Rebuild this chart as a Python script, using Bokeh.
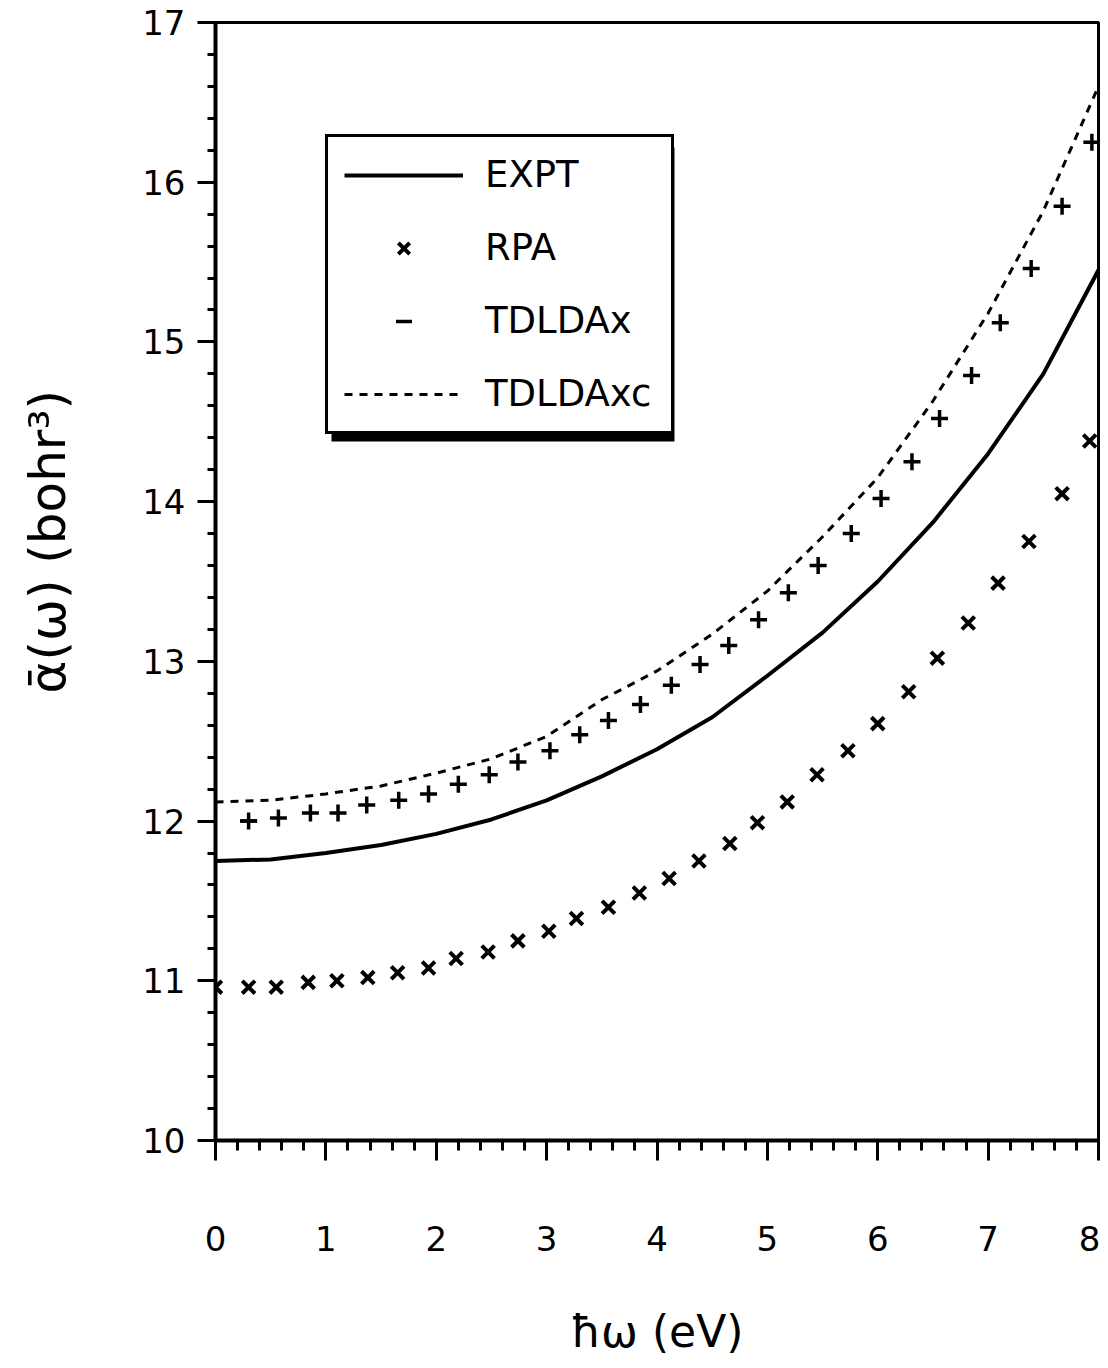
from bokeh.plotting import figure
from bokeh.models import (Range1d, SingleIntervalTicker, Legend, LegendItem,
                          BoxAnnotation)
from bokeh.embed import file_html
from bokeh.resources import INLINE

FONT = "DejaVu Sans"

# ---- data ----
expt_x = [0.0, 0.5, 1.0, 1.5, 2.0, 2.5, 3.0, 3.5, 4.0, 4.5, 5.0, 5.5, 6.0, 6.5, 7.0, 7.5, 8.0]
expt_y = [11.75, 11.76, 11.80, 11.85, 11.92, 12.01, 12.13, 12.28, 12.45, 12.65,
          12.91, 13.18, 13.50, 13.87, 14.30, 14.80, 15.45]

tdxc_x = [0.0, 0.5, 1.0, 1.5, 2.0, 2.5, 3.0, 3.5, 4.0, 4.5, 5.0, 5.5, 6.0, 6.5, 7.0, 7.5, 8.0]
tdxc_y = [12.12, 12.13, 12.17, 12.22, 12.30, 12.39, 12.53, 12.76, 12.94, 13.17,
          13.44, 13.78, 14.15, 14.63, 15.18, 15.82, 16.60]

rpa_x = [0.00, 0.30, 0.55, 0.84, 1.10, 1.38, 1.65, 1.93, 2.18, 2.47, 2.74, 3.02,
         3.27, 3.56, 3.84, 4.11, 4.38, 4.66, 4.91, 5.18, 5.45, 5.73, 6.00, 6.28,
         6.54, 6.82, 7.09, 7.37, 7.67, 7.92]
rpa_y = [10.96, 10.96, 10.96, 10.99, 11.00, 11.02, 11.05, 11.08, 11.14, 11.18,
         11.25, 11.31, 11.39, 11.46, 11.55, 11.64, 11.75, 11.86, 11.99, 12.12,
         12.29, 12.44, 12.61, 12.81, 13.02, 13.24, 13.49, 13.75, 14.05, 14.38]

tdx_x = [0.30, 0.57, 0.86, 1.11, 1.37, 1.66, 1.93, 2.20, 2.48, 2.74, 3.03, 3.30,
         3.56, 3.85, 4.13, 4.39, 4.65, 4.92, 5.19, 5.46, 5.76, 6.03, 6.31, 6.56,
         6.85, 7.11, 7.39, 7.67, 7.94]
tdx_y = [12.00, 12.02, 12.05, 12.05, 12.10, 12.13, 12.17, 12.23, 12.29, 12.37,
         12.44, 12.54, 12.63, 12.73, 12.85, 12.98, 13.10, 13.26, 13.43, 13.60,
         13.80, 14.02, 14.25, 14.52, 14.79, 15.12, 15.46, 15.85, 16.25]

series_labels = ["EXPT", "RPA", "TDLDAx", "TDLDAxc"]
x_title = "ħω (eV)"
y_title = "ᾱ(ω) (bohr³)"

p = figure(width=1100, height=1360, x_range=Range1d(0, 8), y_range=Range1d(10, 17),
           output_backend="svg", toolbar_location=None,
           min_border_left=215, min_border_right=2, min_border_top=22,
           min_border_bottom=220)
p.grid.visible = False
p.background_fill_color = "white"
p.border_fill_color = "white"
p.outline_line_color = "black"
p.outline_line_alpha = 1
p.outline_line_width = 3

r_expt = p.line(expt_x, expt_y, line_color="black", line_width=4)
r_tdxc = p.line(tdxc_x, tdxc_y, line_color="black", line_width=3, line_dash="8 7")
r_rpa = p.scatter(rpa_x, rpa_y, marker="x", size=18, line_color="black", line_width=4)
r_tdx = p.scatter(tdx_x, tdx_y, marker="cross", size=17, line_color="black", line_width=3.5)
# legend glyph for TDLDAx (a dash, lying on the horizontal bar of the first cross)
r_tdx_leg = p.scatter(tdx_x[:1], tdx_y[:1], marker="dash", size=17,
                      line_color="black", line_width=3.5)

for ax in (p.xaxis[0], p.yaxis[0]):
    ax.ticker = SingleIntervalTicker(interval=1, num_minor_ticks=5)
    ax.axis_line_width = 4
    ax.axis_line_color = "black"
    ax.major_tick_line_width = 3
    ax.minor_tick_line_width = 3
    ax.major_tick_line_color = "black"
    ax.minor_tick_line_color = "black"
    ax.major_tick_in = 0
    ax.minor_tick_in = 0
    ax.major_label_text_font = FONT
    ax.major_label_text_font_size = "34px"
    ax.major_label_text_color = "black"
    ax.axis_label_text_font = FONT
    ax.axis_label_text_font_style = "normal"
    ax.axis_label_text_color = "black"

p.xaxis.major_tick_out = 20
p.xaxis.minor_tick_out = 10
p.xaxis.major_label_standoff = 65
p.xaxis.axis_label = x_title
p.xaxis.axis_label_text_font_size = "44px"
p.xaxis.axis_label_standoff = 52

p.yaxis.major_tick_out = 18
p.yaxis.minor_tick_out = 8
p.yaxis.major_label_standoff = 12
# leading no-break spaces move the visible title a little up the axis
p.yaxis.axis_label = "\u00a0" * 5 + y_title
p.yaxis.axis_label_text_font_size = "50px"
p.yaxis.axis_label_standoff = 62

shadow = BoxAnnotation(left=116, right=459, bottom=699, top=993,
                       left_units="screen", right_units="screen",
                       bottom_units="screen", top_units="screen",
                       fill_color="black", fill_alpha=1, line_color=None)
p.add_layout(shadow)

legend = Legend(items=[LegendItem(label=series_labels[0], renderers=[r_expt]),
                       LegendItem(label=series_labels[1], renderers=[r_rpa]),
                       LegendItem(label=series_labels[2], renderers=[r_tdx_leg]),
                       LegendItem(label=series_labels[3], renderers=[r_tdxc])],
                location=(110, 706), margin=0, padding=16, spacing=30,
                glyph_width=119, glyph_height=40, label_height=40, label_width=170,
                label_standoff=22, label_text_font=FONT, label_text_font_size="37px",
                label_text_color="black", border_line_color="black",
                border_line_alpha=1, border_line_width=3,
                background_fill_color="white", background_fill_alpha=1)
p.add_layout(legend)

open("out.html", "w").write(file_html(p, INLINE))
